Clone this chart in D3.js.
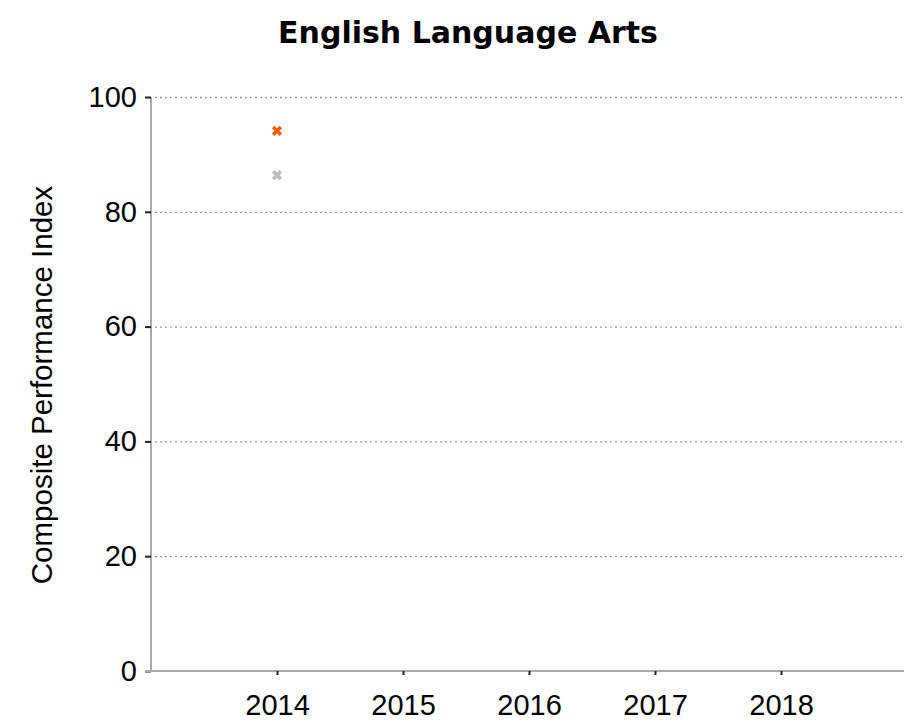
<!DOCTYPE html>
<html>
<head>
<meta charset="utf-8">
<script src="https://cdn.jsdelivr.net/npm/d3@7"></script>
<style>
body { margin: 0; background: #fff; }
svg { display: block; }
</style>
</head>
<body>
<svg width="904" height="723"></svg>
<script>
// chart values
var years = [2014, 2015, 2016, 2017, 2018];
var yTicks = [0, 20, 40, 60, 80, 100];
var seriesNames = ['School', 'State'];
var seriesColors = ['#ff5a00', '#bdbdbd'];
var seriesYears = [2014, 2014];
var seriesValues = [94.1, 86.4];

var svg = d3.select('svg');

var scaleX = d3.scaleLinear().domain([2013, 2019]).range([151, 907]);
var scaleY = d3.scaleLinear().domain([0, 100]).range([671, 97]);

// grid lines
svg.append('g')
    .selectAll('line')
    .data(yTicks.filter(function(d){ return d > 0; }))
    .enter()
    .append('line')
    .attr('x1', 155)
    .attr('x2', 904)
    .attr('y1', function(d){ return scaleY(d) + 0.5; })
    .attr('y2', function(d){ return scaleY(d) + 0.5; })
    .attr('stroke', '#999')
    .attr('stroke-width', 1.3)
    .attr('stroke-dasharray', '2,3');

// y axis
var yAxis = svg.append('g')
    .attr('transform', 'translate(151,0)')
    .call(d3.axisLeft(scaleY).tickValues(yTicks).tickSize(6).tickPadding(8));
yAxis.select('.domain').attr('stroke', '#aaa').attr('stroke-width', 2).attr('d', 'M0,97V672');
yAxis.selectAll('.tick line').attr('stroke', '#222').attr('stroke-width', 2);
yAxis.selectAll('.tick text')
    .attr('font-family', 'Liberation Sans, Arial, sans-serif')
    .attr('font-size', 29)
    .attr('fill', '#000');

// x axis
var xAxis = svg.append('g')
    .attr('transform', 'translate(0,671)')
    .call(d3.axisBottom(scaleX).tickValues(years).tickFormat(d3.format('d')).tickSize(4).tickPadding(19));
xAxis.select('.domain').attr('stroke', '#aaa').attr('stroke-width', 2).attr('d', 'M145,0H904');
xAxis.selectAll('.tick line').attr('stroke', '#222').attr('stroke-width', 2);
xAxis.selectAll('.tick text')
    .attr('font-family', 'Liberation Sans, Arial, sans-serif')
    .attr('font-size', 29)
    .attr('fill', '#000');

// points
svg.append('g')
    .selectAll('path.pt')
    .data(seriesValues)
    .enter()
    .append('path')
    .attr('class', 'pt')
    .attr('d', d3.symbol().type(d3.symbolX).size(40))
    .attr('transform', function(d, i){
        return 'translate(' + scaleX(seriesYears[i]) + ',' + scaleY(d) + ')';
    })
    .attr('stroke', function(d, i){ return seriesColors[i]; })
    .attr('stroke-width', 3.5)
    .attr('fill', 'none');

// title
svg.append('text')
    .attr('x', 468)
    .attr('y', 43)
    .attr('text-anchor', 'middle')
    .attr('font-family', 'DejaVu Sans, Verdana, sans-serif')
    .attr('font-weight', 'bold')
    .attr('font-size', 30)
    .attr('fill', '#000')
    .text('English Language Arts');

// y label
svg.append('text')
    .attr('transform', 'translate(52,385) rotate(-90)')
    .attr('text-anchor', 'middle')
    .attr('font-family', 'Liberation Sans, Arial, sans-serif')
    .attr('font-size', 29.5)
    .attr('fill', '#000')
    .text('Composite Performance Index');
</script>
</body>
</html>
